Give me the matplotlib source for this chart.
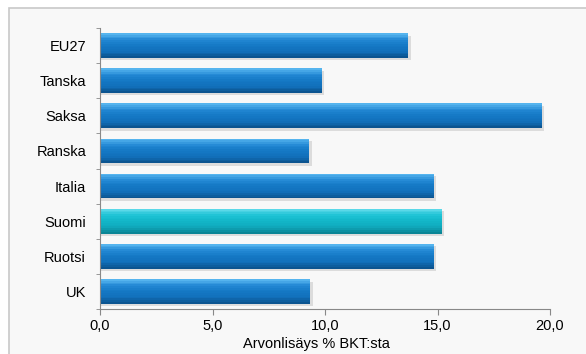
import matplotlib.pyplot as plt
from matplotlib.patches import Rectangle
from matplotlib.colors import to_rgb
import numpy as np

plt.rcParams['font.family'] = ['Liberation Sans', 'DejaVu Sans']

countries = ['EU27', 'Tanska', 'Saksa', 'Ranska', 'Italia', 'Suomi', 'Ruotsi', 'UK']
values = [13.7, 9.85, 19.65, 9.3, 14.85, 15.2, 14.85, 9.35]
highlight = 'Suomi'

fig = plt.figure(figsize=(5.86, 3.54), dpi=100)

# light gray chart frame, running off the right and bottom edges
fig.patches.append(Rectangle((9 / 586, -0.1), 1.1, 1 - 8 / 354 + 0.1,
                             transform=fig.transFigure, facecolor='#f8f8f8',
                             edgecolor='#c8c8c8', linewidth=1.2, zorder=-10))

ax = fig.add_axes([100 / 586, 1 - 309 / 354, 450 / 586, 281 / 354])
ax.set_facecolor('none')

y = np.arange(len(countries))
h = 0.7

# gradient stops (top -> bottom) for the glossy bar look
blue_stops = ['#55b4ee', '#2288d4', '#1478c4', '#1170bb', '#0b5490']
cyan_stops = ['#5ad8e8', '#1cc2d4', '#12b6c8', '#10aabd', '#0a8595']


def grad(stops, n):
    pts = np.linspace(0, 1, len(stops))
    rgb = np.array([to_rgb(c) for c in stops])
    t = np.linspace(0, 1, n)
    return [tuple(np.interp(tt, pts, rgb[:, k]) for k in range(3)) for tt in t]


n = 14
# soft drop shadow
ax.barh(y + 0.07, np.array(values) + 0.1, height=h, color='#a8a8a8', alpha=0.35, zorder=1)
for yi, v, c in zip(y, values, countries):
    cols = grad(cyan_stops if c == highlight else blue_stops, n)
    sh = h / n
    for k in range(n):
        ax.barh(yi - h / 2 + sh * (k + 0.5), v, height=sh * 1.05, color=cols[k],
                linewidth=0, zorder=2)

ax.set_xlim(0, 20)
ax.set_ylim(7.5, -0.5)
ax.set_xticks([0, 5, 10, 15, 20])
ax.set_xticklabels(['0,0', '5,0', '10,0', '15,0', '20,0'], fontsize=10.5)
ax.set_yticks(y)
ax.set_yticklabels(countries, fontsize=10.5)
ax.set_yticks(np.arange(-0.5, len(countries), 1), minor=True)
ax.tick_params(axis='y', which='major', length=0, pad=10)
ax.tick_params(axis='y', which='minor', length=3, color='#888888', direction='out')
ax.tick_params(axis='x', length=4, color='#888888', direction='out', pad=3)

for s in ['top', 'right']:
    ax.spines[s].set_visible(False)
for s in ['left', 'bottom']:
    ax.spines[s].set_color('#888888')
    ax.spines[s].set_linewidth(0.8)

ax.set_xlabel('Arvonlisäys % BKT:sta', fontsize=10.5)
ax.xaxis.set_label_coords(0.482, -0.098)

fig.savefig('out.png', dpi=100)
